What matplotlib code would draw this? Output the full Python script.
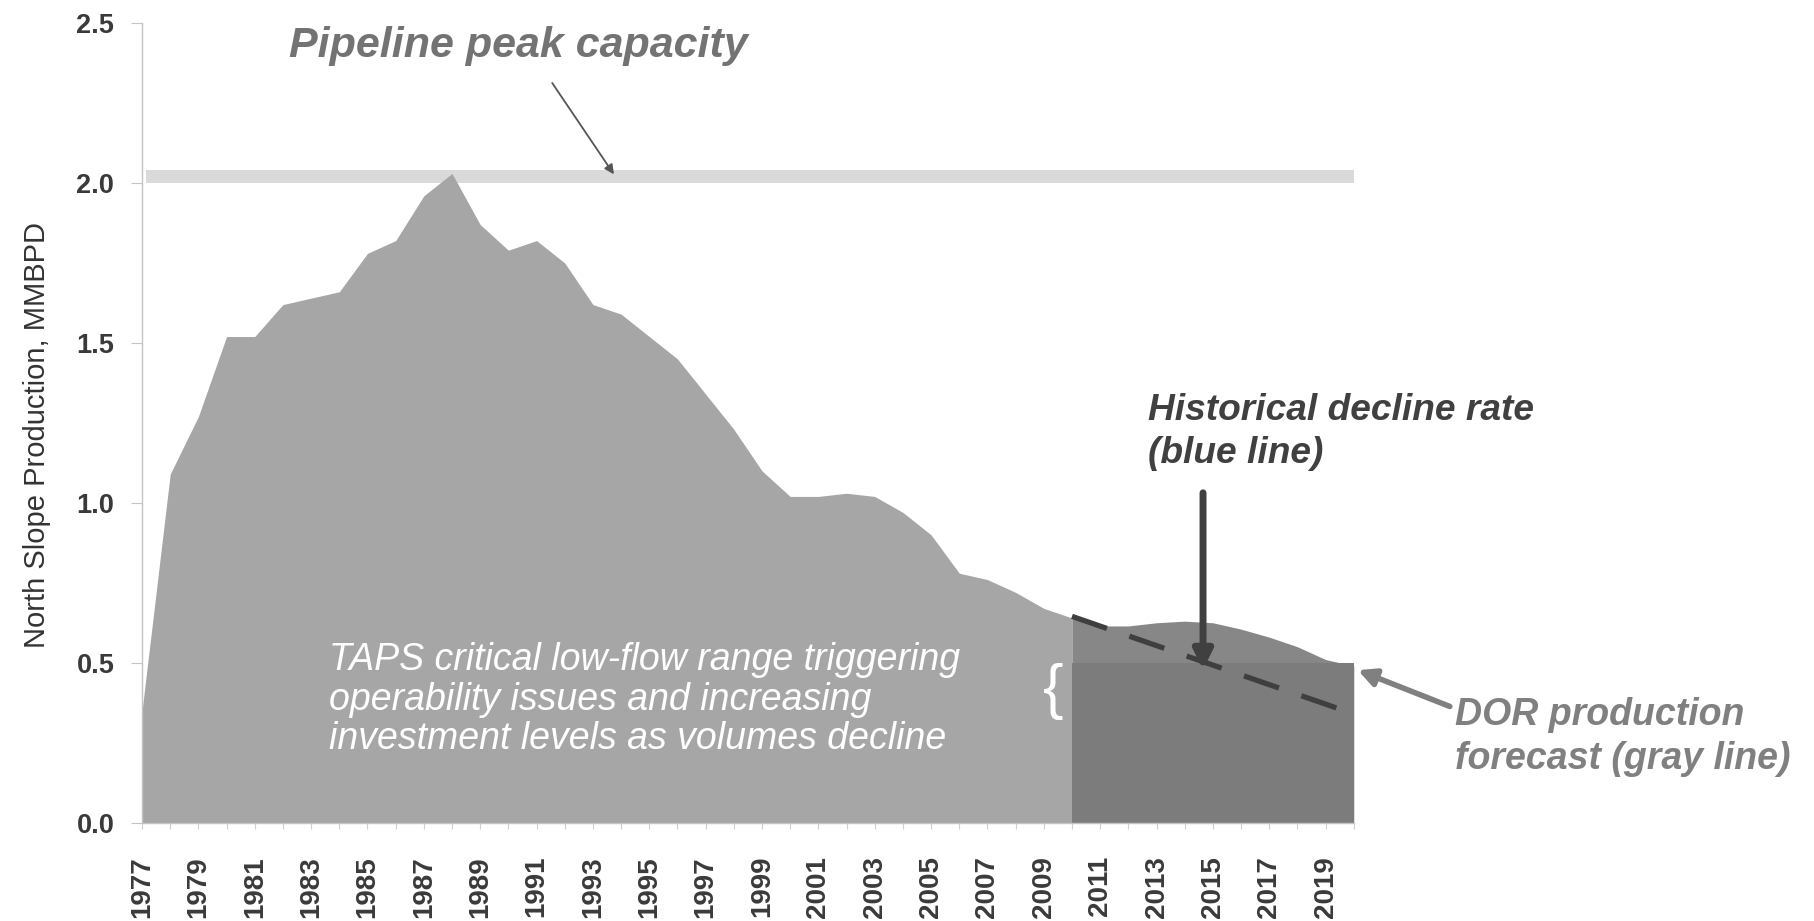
import numpy as np
import matplotlib.pyplot as plt

# North Slope production, MMBPD
hist_years = list(range(1977, 2011))
hist_prod = [0.35, 1.09, 1.27, 1.52, 1.52, 1.62, 1.64, 1.66, 1.78, 1.82,
             1.96, 2.03, 1.87, 1.79, 1.82, 1.75, 1.62, 1.59, 1.52, 1.45,
             1.34, 1.23, 1.10, 1.02, 1.02, 1.03, 1.02, 0.97, 0.90, 0.78,
             0.76, 0.72, 0.67, 0.64]

# DOR production forecast
fc_years = list(range(2010, 2021))
fc_prod = [0.64, 0.615, 0.615, 0.625, 0.63, 0.625, 0.605, 0.58, 0.55, 0.51, 0.49]

# historical decline rate (dashed)
decline_years = [2010, 2020]
decline_prod = [0.645, 0.34]

# low-flow level and pipeline peak capacity
low_flow = 0.50
peak_cap = [2.0, 2.04]

label_years = [str(y) if (y - 1977) % 2 == 0 else '' for y in range(1977, 2021)]

plt.rcParams['font.family'] = ['Liberation Sans', 'DejaVu Sans']

fig = plt.figure(figsize=(18.14, 9.21), dpi=100)
ax = fig.add_axes([0.0783, 0.1068, 0.7463 - 0.0783, 0.9749 - 0.1068])

# capacity band sits behind the production area, the 1988 peak pokes into it
ax.fill_between([1977.15, 2020], peak_cap[0], peak_cap[1], color='#dadada', lw=0, zorder=1)
ax.fill_between(hist_years, 0, hist_prod, color='#a6a6a6', lw=0, zorder=2)
ax.fill_between(fc_years, 0, fc_prod, color='#878787', lw=0, zorder=2)
ax.fill_between([fc_years[0], fc_years[-1]], 0, low_flow, color='#7c7c7c', lw=0, zorder=2)

ax.plot(decline_years, decline_prod, color='#3f3f3f', lw=3.8, ls=(0, (7, 4.5)), zorder=3)

ax.set_xlim(1977, 2020)
ax.set_ylim(0, 2.5)
ax.set_yticks([0, 0.5, 1.0, 1.5, 2.0, 2.5])
ax.set_yticklabels(['0.0', '0.5', '1.0', '1.5', '2.0', '2.5'],
                   fontweight='bold', fontsize=19.5, color='#3a3a3a')
ax.set_xticks(range(1977, 2021))
ax.set_xticklabels(label_years, rotation=90, fontweight='bold', fontsize=20, color='#3a3a3a')
ax.tick_params(axis='y', length=8, color='#c4c4c4', pad=12)
ax.tick_params(axis='x', length=4, color='#cfcfcf', pad=20)
for s in ['top', 'right']:
    ax.spines[s].set_visible(False)
for s in ['left', 'bottom']:
    ax.spines[s].set_color('#c4c4c4')
    ax.spines[s].set_linewidth(1)

ax.set_ylabel('North Slope Production, MMBPD', fontsize=21, color='#333333')
ax.yaxis.set_label_coords(-0.075, 0.485)

# annotations
ax.text(1982.2, 2.43, 'Pipeline peak capacity', fontsize=31, fontweight='bold',
        style='italic', color='#737373', ha='left', va='center')
ax.annotate('', xy=(1993.8, 2.02), xytext=(1991.5, 2.32),
            arrowprops=dict(arrowstyle='-|>', color='#555555', lw=1.3, mutation_scale=14))

ax.text(2012.7, 1.222, 'Historical decline rate\n(blue line)', fontsize=26.7, fontweight='bold',
        style='italic', color='#404040', ha='left', va='center', linespacing=1.3)
ax.annotate('', xy=(2014.65, 0.47), xytext=(2014.65, 1.04),
            arrowprops=dict(arrowstyle='-|>', color='#404040', lw=5, mutation_scale=28))

ax.text(2023.6, 0.268, 'DOR production\nforecast (gray line)', fontsize=27, fontweight='bold',
        style='italic', color='#808080', ha='left', va='center', linespacing=1.3,
        clip_on=False)
ax.annotate('', xy=(2020.05, 0.48), xytext=(2023.5, 0.36),
            arrowprops=dict(arrowstyle='-|>', color='#808080', lw=4, mutation_scale=26),
            annotation_clip=False)

ax.text(1983.65, 0.385, 'TAPS critical low-flow range triggering\noperability issues and increasing\ninvestment levels as volumes decline',
        fontsize=27, style='italic', color='white', ha='left', va='center', linespacing=1.12)
ax.text(2009.33, 0.41, '{', fontsize=44, color='white', ha='center', va='center')

fig.savefig('out.png', dpi=100)
